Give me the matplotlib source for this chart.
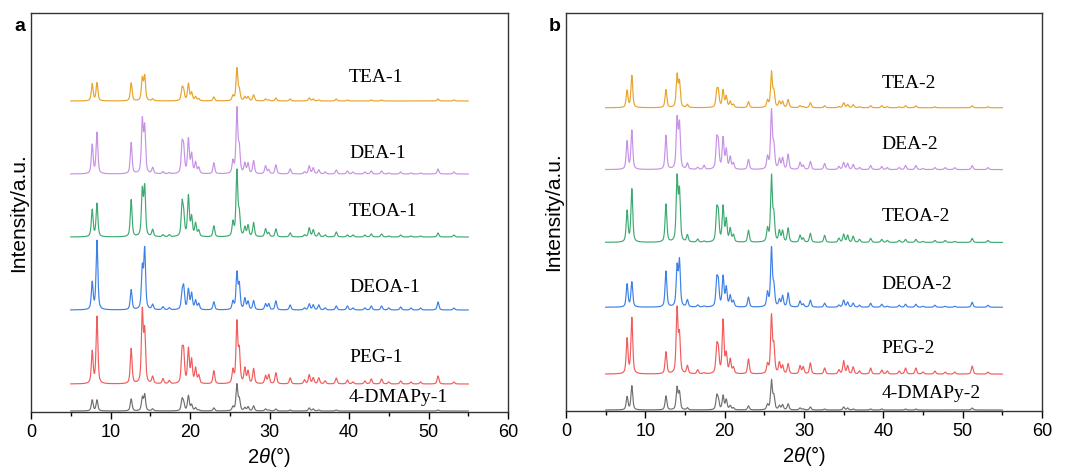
"""
XRD patterns of the six samples, two batches (a, b)
"""

import matplotlib.pyplot as plt
import numpy as np

# common reflection positions (2theta, deg)
peak_pos = [7.7, 8.3, 12.6, 14.0, 14.3, 15.3, 16.6, 17.4, 19.0, 19.2, 19.8, 20.2, 20.7, 21.1,
            23.0, 25.4, 25.9, 26.2, 26.9, 27.3, 28.0, 29.5, 29.9, 30.8, 32.6, 34.4, 35.0, 35.5,
            36.2, 37.0, 38.4, 39.8, 40.5, 42.0, 42.8, 44.1, 45.0, 46.5, 47.8, 49.0, 51.2, 53.2]

# peak heights per sample (same order as peak_pos), batch 1
tea_1 = [17, 18, 18, 22, 24, 2, 0, 0, 12, 9, 17, 8, 4, 2,
         4, 5, 32, 10, 4, 4, 6, 2, 1, 3, 2, 0, 3, 2,
         1, 0, 2, 1, 0, 0, 1, 1, 0, 0, 0, 0, 2, 1]
dea_1 = [29, 41, 31, 52, 45, 6, 2, 1, 27, 23, 34, 19, 11, 6,
         11, 12, 64, 24, 10, 10, 13, 8, 4, 9, 5, 2, 8, 6,
         4, 2, 4, 3, 2, 2, 3, 3, 1, 2, 1, 1, 5, 2]
teoa_1 = [27, 33, 37, 45, 48, 7, 2, 2, 31, 20, 40, 19, 13, 6,
          11, 14, 65, 21, 9, 11, 14, 8, 4, 8, 4, 2, 9, 7,
          4, 2, 5, 2, 2, 2, 3, 3, 1, 2, 1, 1, 4, 2]
deoa_1 = [27, 69, 20, 40, 59, 5, 3, 2, 15, 21, 20, 16, 9, 6,
          8, 8, 36, 24, 11, 8, 9, 6, 6, 9, 5, 2, 6, 5,
          5, 2, 4, 4, 2, 2, 4, 4, 2, 3, 2, 2, 8, 2]
peg_1 = [32, 67, 35, 71, 50, 7, 5, 3, 29, 28, 34, 23, 15, 8,
         13, 13, 60, 31, 15, 12, 15, 8, 9, 11, 6, 4, 9, 6,
         6, 3, 6, 4, 2, 3, 5, 5, 2, 3, 2, 2, 8, 2]
dmapy_1 = [11, 11, 12, 13, 16, 2, 0, 0, 11, 7, 15, 6, 3, 1,
           3, 4, 26, 11, 3, 4, 5, 2, 1, 2, 1, 0, 3, 2,
           1, 0, 1, 0, 0, 0, 0, 0, 0, 0, 0, 0, 1, 0]

# batch 2
tea_2 = [17, 32, 18, 32, 25, 3, 0, 0, 15, 15, 17, 11, 6, 3,
         6, 7, 35, 15, 6, 6, 8, 2, 1, 5, 2, 1, 5, 3,
         3, 1, 2, 2, 1, 1, 2, 2, 0, 1, 0, 0, 2, 1]
dea_2 = [28, 39, 34, 49, 44, 6, 2, 4, 27, 23, 31, 19, 12, 6,
         10, 12, 58, 22, 10, 11, 15, 7, 4, 8, 6, 3, 7, 6,
         5, 2, 4, 3, 2, 2, 4, 4, 1, 2, 2, 2, 4, 2]
teoa_2 = [31, 53, 38, 63, 49, 7, 3, 1, 29, 25, 35, 22, 13, 7,
          12, 13, 65, 25, 11, 11, 14, 7, 4, 9, 7, 4, 8, 7,
          6, 3, 4, 3, 2, 2, 3, 3, 1, 2, 2, 1, 4, 2]
deoa_2 = [23, 25, 36, 39, 45, 7, 2, 1, 25, 22, 30, 19, 11, 6,
          10, 14, 58, 19, 7, 11, 14, 6, 3, 7, 4, 2, 7, 5,
          4, 2, 4, 3, 1, 2, 3, 3, 1, 2, 1, 1, 5, 2]
peg_2 = [35, 56, 22, 64, 37, 8, 4, 1, 25, 21, 53, 19, 14, 6,
         15, 9, 57, 26, 11, 8, 10, 8, 7, 11, 6, 4, 13, 8,
         7, 3, 6, 4, 3, 3, 6, 6, 2, 3, 2, 2, 8, 2]
dmapy_2 = [13, 24, 14, 22, 17, 2, 0, 0, 13, 9, 14, 10, 4, 2,
           4, 5, 29, 13, 4, 5, 6, 2, 1, 3, 1, 0, 3, 2,
           1, 0, 1, 1, 0, 0, 1, 1, 0, 0, 0, 0, 2, 0]

names_1 = ['TEA-1', 'DEA-1', 'TEOA-1', 'DEOA-1', 'PEG-1', '4-DMAPy-1']
names_2 = ['TEA-2', 'DEA-2', 'TEOA-2', 'DEOA-2', 'PEG-2', '4-DMAPy-2']
data_1 = [tea_1, dea_1, teoa_1, deoa_1, peg_1, dmapy_1]
data_2 = [tea_2, dea_2, teoa_2, deoa_2, peg_2, dmapy_2]

# vertical offsets of each trace
offsets_1 = [311, 238, 175, 102, 28, 1]
offsets_2 = [304, 242, 169, 104, 37, 1]
label_y_1 = [334, 259, 200, 124, 54, 14]
label_y_2 = [328, 267, 195, 127, 63, 18]

colors = ['#E8A42C', '#C792E6', '#3EAA72', '#3D80E6', '#F25C5C', '#707070']


def profile(x, heights):
    y = np.zeros_like(x)
    for p, h in zip(peak_pos, heights):
        w = 0.13
        y += h * (0.6 / (1 + ((x - p) / w) ** 2) + 0.4 * np.exp(-0.5 * ((x - p) / (w * 0.9)) ** 2))
    return y


def panel(ax, data, names, offsets, label_y, label_x, letter):
    x = np.linspace(5, 55, 5000)
    for d, name, off, ly, c in zip(data, names, offsets, label_y, colors):
        ax.plot(x, profile(x, d) + off, color=c, lw=0.85)
        ax.text(label_x, ly, name, fontsize=14, family='Liberation Serif',
                va='center', ha='left')
    ax.set_xlim(0, 60)
    ax.set_ylim(0, 399)
    ax.set_xticks(range(0, 61, 10))
    ax.set_xticks(range(5, 60, 10), minor=True)
    ax.set_yticks([])
    ax.tick_params(axis='x', direction='out', length=5, width=1, labelsize=13)
    ax.tick_params(axis='x', which='minor', direction='out', length=3, width=1)
    ax.set_xlabel(r'2$\theta$(°)', fontsize=14.5, labelpad=3)
    ax.set_ylabel('Intensity/a.u.', fontsize=15, labelpad=2)
    for s in ax.spines.values():
        s.set_linewidth(1.0)
        s.set_color('#333333')
    ax.text(-0.024, 0.965, letter, transform=ax.transAxes, fontsize=14,
            fontweight='bold', ha='center', va='center')


plt.rcParams['font.family'] = ['Liberation Sans', 'DejaVu Sans']
plt.rcParams['mathtext.fontset'] = 'custom'
plt.rcParams['mathtext.it'] = 'Liberation Sans:italic'
plt.rcParams['mathtext.rm'] = 'Liberation Sans'

fig = plt.figure(figsize=(10.71, 4.74), dpi=100)
ax1 = fig.add_axes([31 / 1071, 62 / 474, 477 / 1071, 399 / 474])
ax2 = fig.add_axes([566 / 1071, 63 / 474, 476 / 1071, 398 / 474])

panel(ax1, data_1, names_1, offsets_1, label_y_1, 40.0, 'a')
panel(ax2, data_2, names_2, offsets_2, label_y_2, 39.8, 'b')

fig.savefig('out.png', dpi=100)
